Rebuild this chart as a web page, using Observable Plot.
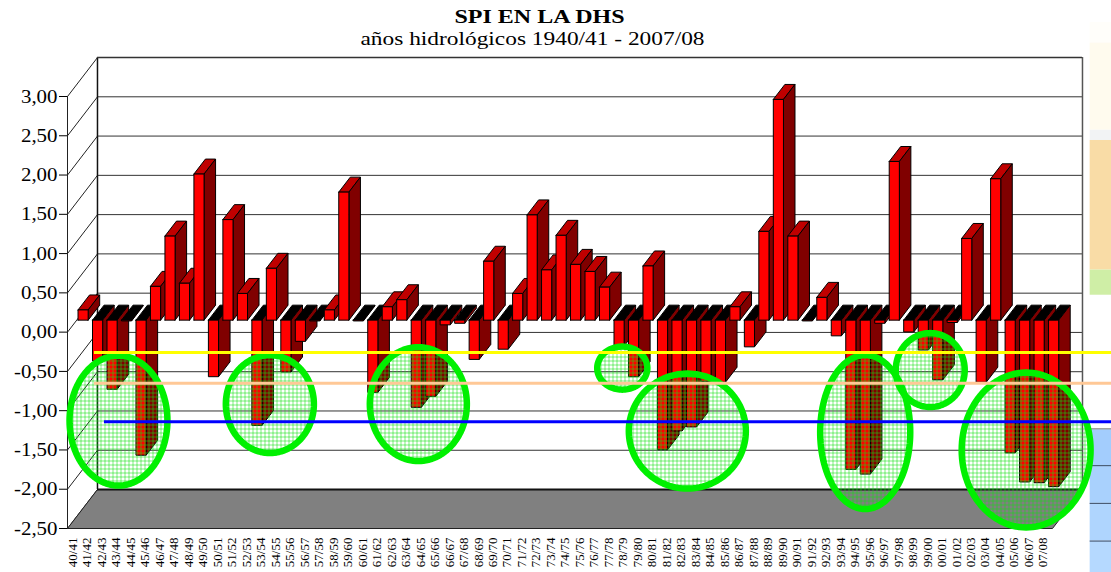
<!DOCTYPE html>
<html><head><meta charset="utf-8">
<script src="https://cdn.jsdelivr.net/npm/d3@7"></script>
<script src="https://cdn.jsdelivr.net/npm/@observablehq/plot@0.6"></script>
<style>html,body{margin:0;padding:0;background:#fff}svg{display:block}</style>
</head><body><div id="chart"></div>
<script>
const years = ["40/41","41/42","42/43","43/44","44/45","45/46","46/47","47/48","48/49","49/50","50/51","51/52","52/53","53/54","54/55","55/56","56/57","57/58","58/59","59/60","60/61","61/62","62/63","63/64","64/65","65/66","66/67","67/68","68/69","69/70","70/71","71/72","72/73","73/74","74/75","75/76","76/77","77/78","78/79","79/80","80/81","81/82","82/83","83/84","84/85","85/86","86/87","87/88","88/89","89/90","90/91","91/92","92/93","93/94","94/95","95/96","96/97","97/98","98/99","99/00","00/01","01/02","02/03","03/04","04/05","05/06","06/07","07/08"];
const spi = [0.13,-0.52,-0.88,-0.01,-1.72,0.43,1.07,0.47,1.86,-0.72,1.28,0.34,-1.34,0.66,-0.66,-0.27,-0.01,0.13,1.63,-0.01,-0.92,0.17,0.26,-1.11,-0.97,-0.06,-0.04,-0.5,0.75,-0.37,0.34,1.34,0.64,1.08,0.71,0.62,0.42,-0.33,-0.72,0.69,-1.65,-1.41,-1.36,-0.78,-0.79,0.17,-0.34,1.13,2.81,1.07,-0.01,0.29,-0.2,-1.9,-1.96,-0.04,2.02,-0.15,-0.38,-0.76,-0.03,1.04,-0.79,1.8,-1.69,-2.06,-2.07,-2.12];
const yTicks = [3,2.5,2,1.5,1,0.5,0,-0.5,-1,-1.5,-2,-2.5];
const thresholds = [
  {v:-0.26, from:1.86, color:"#ffff00"},
  {v:-0.65, from:1.86, color:"#ffc896"},
  {v:-1.14, from:2.55, color:"#0000ff"}
];
// highlighted dry periods: centre (slot, SPI) and radii (slots, SPI)
const circledX  = [3.52,13.97,24.22,38.30,42.79,55.07,59.56,66.18];
const circledY  = [-1.126,-0.916,-0.916,-0.458,-1.26,-1.272,-0.483,-1.501];
const circledRx = [3.38,3.04,3.35,1.73,4.04,3.11,2.38,4.45];
const circledRy = [0.827,0.623,0.725,0.274,0.732,0.98,0.471,0.986];
// remnants of the page behind the chart
const behind = [
  {x1:70.6,x2:72.1,y1:3.94,y2:3.68,c:"#fffefa"},
  {x1:70.6,x2:72.1,y1:3.68,y2:2.57,c:"#fffbee"},
  {x1:70.6,x2:72.1,y1:2.57,y2:2.44,c:"#f2f3f5"},
  {x1:70.6,x2:72.1,y1:2.44,y2:0.79,c:"#f9dca6"},
  {x1:70.6,x2:72.1,y1:0.79,y2:0.47,c:"#cfeea6"},
  {x1:70.6,x2:72.1,y1:-1.23,y2:-1.7,c:"#a3cdfd"},
  {x1:70.6,x2:72.1,y1:-1.7,y2:-2.18,c:"#a9d1fd"},
  {x1:70.6,x2:72.1,y1:-2.18,y2:-2.66,c:"#afd5fe"},
  {x1:70.6,x2:72.1,y1:-2.66,y2:-3.06,c:"#b5d9ff"}
];
const behindLines = [-1.7,-2.18,-2.66];

const depthX = 2.07, depthY = 0.4962;
const frontD = 0.3077, backD = 0.692, barL = 0.09, barW = 0.70, slots = 68;
const P = (x, y, d = 0) => ({x: x + d * depthX, y: y + d * depthY});

const polys = [];
let pid = 0;
const poly = (c, pts) => { pid++; pts.concat(pts[0]).forEach(p => polys.push({...p, id: pid, c})); };
spi.forEach((v, i) => {
  const l = i + barL, r = l + barW;
  if (v < 0) poly("#000000", [P(l,0,frontD),P(r,0,frontD),P(r,0,backD),P(l,0,backD)]);
  else poly("#c00000", [P(l,v,frontD),P(r,v,frontD),P(r,v,backD),P(l,v,backD)]);
  poly("#800000", [P(r,0,frontD),P(r,v,frontD),P(r,v,backD),P(r,0,backD)]);
  poly("#ff0000", [P(l,0,frontD),P(r,0,frontD),P(r,v,frontD),P(l,v,frontD)]);
});

const ellipses = [];
circledX.forEach((cx, k) => {
  for (let t = 0; t <= 120; t++) {
    const a = t / 120 * 2 * Math.PI;
    ellipses.push({id:k, x: cx + circledRx[k] * Math.cos(a), y: circledY[k] + circledRy[k] * Math.sin(a)});
  }
});

const floor = [P(0,-2.5),P(slots,-2.5),P(slots,-2.5,1),P(0,-2.5,1),P(0,-2.5)];

const chart = Plot.plot({
  width: 1111, height: 572,
  marginLeft: 67, marginRight: 59, marginTop: 96, marginBottom: 44,
  style: {fontFamily: "'Liberation Serif', serif", background: "#fff", color: "#000"},
  x: {type: "linear", domain: [0, slots], label: null},
  y: {domain: [-2.5, 3], label: null},
  color: {type: "identity"},
  marks: [
    () => {
      const d = d3.create("svg:defs");
      d.html(`<pattern id="hatch" width="4" height="4" patternUnits="userSpaceOnUse">
        <rect width="4" height="1" fill="#10e010" fill-opacity="0.55"/>
        <rect width="1" height="4" fill="#10e010" fill-opacity="0.55"/></pattern>`);
      return d.node();
    },
    Plot.rect(behind, {x1:"x1", x2:"x2", y1:"y1", y2:"y2", fill:"c"}),
    Plot.ruleY([-1.23], {x1:70.6, x2:72.1, stroke:"#a0a0a0", strokeWidth:1.5}),
    Plot.ruleY(behindLines, {x1:70.6, x2:72.1, stroke:"#3a4a60", strokeWidth:1}),
    // walls
    Plot.ruleY(yTicks.slice(1), {y: d => d + depthY, x1: depthX, x2: slots + depthX, stroke:"#333", strokeWidth:1}),
    Plot.link(yTicks, {x1:0, y1:d=>d, x2:depthX, y2:d=>d+depthY, stroke:"#222", strokeWidth:1}),
    Plot.line(floor, {x:"x", y:"y", fill:"#808080", stroke:"#222", strokeWidth:1}),
    Plot.ruleY([-2.5 + depthY], {x1:depthX, x2:slots+depthX, stroke:"#111", strokeWidth:2}),
    Plot.ruleX([depthX], {y1:-2.5+depthY, y2:3+depthY, stroke:"#111", strokeWidth:1.5}),
    Plot.ruleX([slots+depthX], {y1:-2.5+depthY, y2:3+depthY, stroke:"#555", strokeWidth:1.5}),
    Plot.ruleY([3+depthY], {x1:depthX, x2:slots+depthX, stroke:"#333", strokeWidth:1.5}),
    Plot.ruleX([0], {y1:-2.5, y2:3, stroke:"#222", strokeWidth:1}),
    // bars
    Plot.line(polys, {x:"x", y:"y", z:"id", fill:"c", stroke:"#000", strokeWidth:1, curve:"linear"}),
    // circled dry spells
    Plot.line(ellipses, {x:"x", y:"y", z:"id", fill:"url(#hatch)", stroke:"#00f000", strokeWidth:6.5}),
    // thresholds
    Plot.ruleY(thresholds, {y:"v", x1:"from", x2:72.1, stroke:"color", strokeWidth:3}),
    // axes
    Plot.axisY({ticks: yTicks, tickSize: 8, tickPadding: 2, fontSize: 19, label: null,
      tickFormat: d => d.toFixed(2).replace(".", ",")}),
    Plot.axisX({ticks: years.map((_, i) => i + 0.5), tickFormat: d => years[d - 0.5],
      tickSize: 0, tickPadding: 9, tickRotate: -90, fontSize: 13, label: null, dx: -2}),
    // titles
    Plot.text(["SPI EN LA DHS"], {frameAnchor:"top", dx:-20.5, dy:-74, lineAnchor:"bottom",
      fontWeight:"bold", fontSize:19, text:d=>d}),
    Plot.text(["años hidrológicos 1940/41 - 2007/08"], {frameAnchor:"top", dx:-27.5, dy:-52, lineAnchor:"bottom",
      fontSize:18, text:d=>d})
  ]
});
document.getElementById("chart").appendChild(chart);
// the reference's text is stretched sideways
d3.select(chart).selectAll("text").each(function () {
  const s = this.textContent;
  let w = null;
  if (s === "SPI EN LA DHS") w = 170;
  else if (s.startsWith("años")) w = 344;
  else if (/^-?\d,\d\d$/.test(s)) w = this.getComputedTextLength() * 1.1;
  if (w) { this.setAttribute("textLength", w); this.setAttribute("lengthAdjust", "spacingAndGlyphs"); }
});
</script></body></html>
